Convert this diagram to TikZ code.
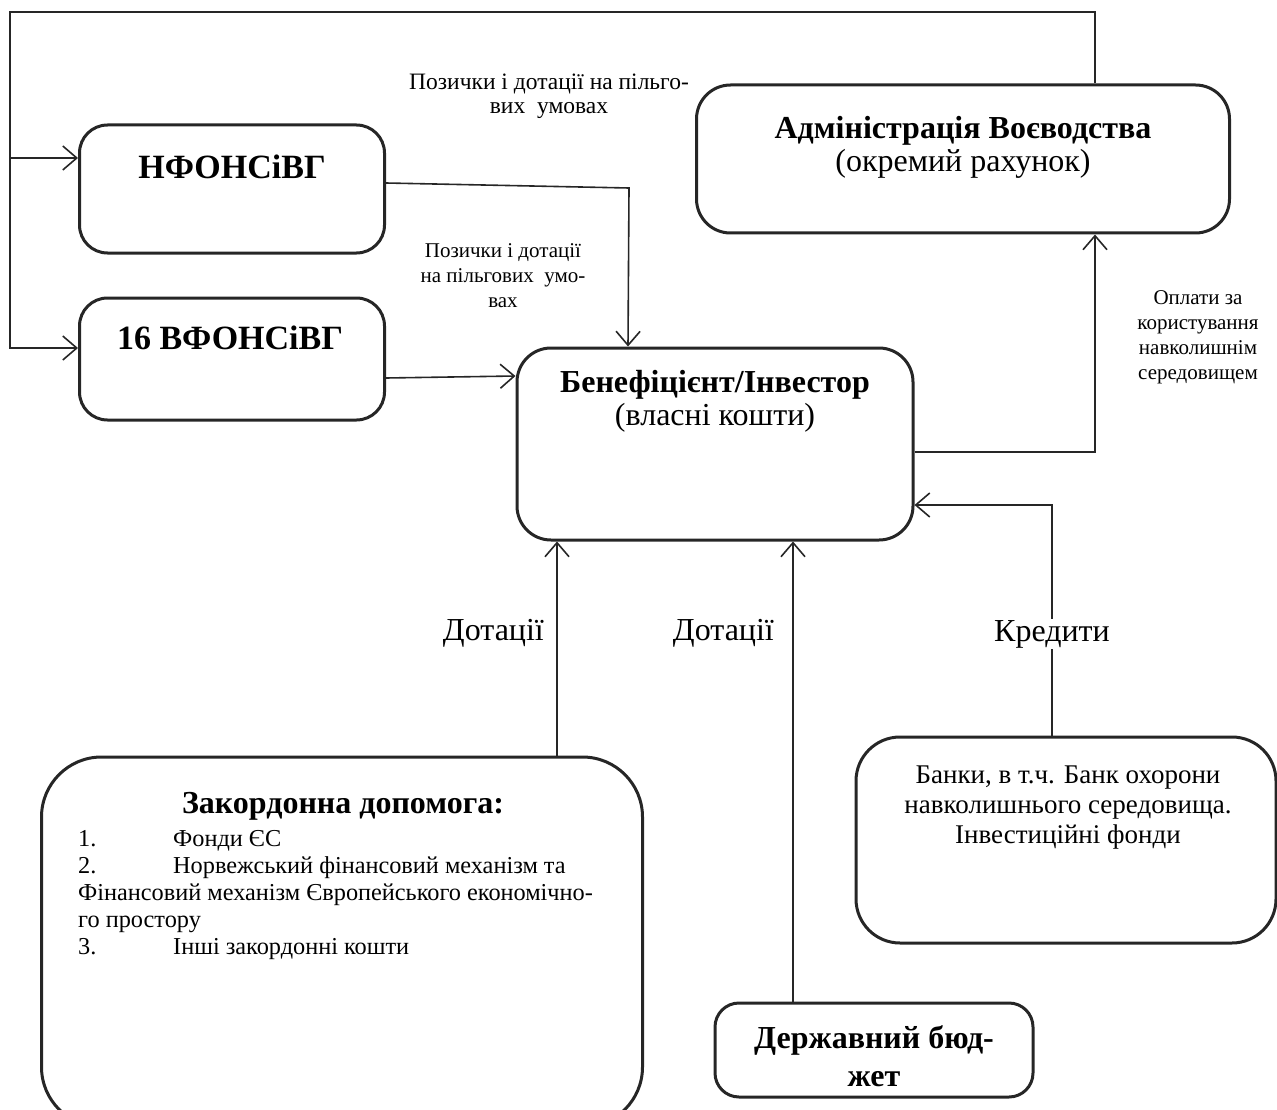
\documentclass[tikz,border=0pt]{standalone}
\usepackage{fontspec}
\setmainfont{Liberation Serif}
\usetikzlibrary{arrows.meta,positioning,calc}
\newcommand{\numitem}[1]{\makebox[95pt][l]{#1}}
\tikzset{
    block/.style={
        rectangle,
        rounded corners=28pt,
        line width=3pt,
        draw=black!85,
        inner sep=0pt,
    },
    flow/.style={
        ->,
        line width=1.6pt,
        draw=black!85,
    },
    title/.style={
        align=center,
        font=\fontsize{34}{38}\selectfont\bfseries,
    },
    big/.style={
        font=\fontsize{32}{33}\selectfont,
    },
    note/.style={
        align=center,
        font=\fontsize{21}{25}\selectfont,
    },
}

\begin{document}
\begin{tikzpicture}[x=1pt,y=-1pt,>={Straight Barb[length=14pt,width=24pt]}]
    \useasboundingbox (0,0) rectangle (1277,1110);
    % boxes
    \node [block, minimum width=305pt, minimum height=128pt] (NF) at (232,189) {};
    \node [block, minimum width=305pt, minimum height=122pt] (VF) at (232,359) {};
    \node [block, minimum width=533pt, minimum height=148pt, rounded corners=34pt] (Adm) at (963,159) {};
    \node [block, minimum width=396pt, minimum height=192pt, rounded corners=34pt] (Ben) at (715,444) {};
    \node [block, minimum width=601pt, minimum height=370pt, rounded corners=60pt] (Zak) at (342,942) {};
    \node [block, minimum width=420pt, minimum height=206pt, rounded corners=44pt] (Bank) at (1066,840) {};
    \node [block, minimum width=318pt, minimum height=94pt, rounded corners=24pt] (Bud) at (874,1050) {};
    % texts
    \node [title] (NFt) at (232,167) {НФОНСіВГ};
    \node [title] (VFt) at (230,338) {16 ВФОНСіВГ};
    \node [big, align=center] (Admt) at (963,147) {\textbf{Адміністрація Воєводства}\\(окремий рахунок)};
    \node [big, align=center] (Bent) at (715,401) {\textbf{Бенефіцієнт/Інвестор}\\(власні кошти)};
    \node [title, font=\fontsize{32}{38}\selectfont\bfseries] (Budt) at (874,1056) {Державний бюд-\\жет};
    \node [align=center, font=\fontsize{27}{30}\selectfont] (Bankt) at (1068,808) {Банки, в т.ч. Банк охорони\\навколишнього середовища.\\Інвестиційні фонди};
    \node [font=\fontsize{32}{34}\selectfont\bfseries] (Zakt) at (343,806) {Закордонна допомога:};
    \node [anchor=north west, align=left, inner sep=0pt, font=\fontsize{24.3}{27}\selectfont] (Zakl) at (78,830)
        {\numitem{1.}Фонди ЄС\\\numitem{2.}Норвежський фінансовий механізм та\\Фінансовий механізм Європейського економічно-\\го простору\\\numitem{3.}Інші закордонні кошти};
    \node [note, font=\fontsize{23.5}{24}\selectfont] (L1) at (549,96) {Позички і дотації на пільго-\\вих\ \ умовах};
    \node [note] (L2) at (503,276) {Позички і дотації\\на пільгових\ \ умо-\\вах};
    \node [note] (L3) at (1198,337) {Оплати за\\користування\\навколишнім\\середовищем};
    % connectors
    \coordinate (TL) at (10,12);
    \coordinate (TB) at (10,158);
    \draw [flow] ($(Adm.north)+(132,0)$) |- (TL) |- ($(VF.west)+(0,-11)$);
    \draw [flow] (TB) -- (TB -| NF.west);
    \draw [flow] ($(NF.east)+(0,-6)$) -- ($(NF.east)+(243,-1)$) -- ($(Ben.north)+(-87,0)$);
    \draw [flow] ($(VF.east)+(0,19)$) -- ($(Ben.west)+(0,-68)$);
    \draw [flow] ($(Ben.east)+(0,8)$) -| ($(Adm.south)+(132,0)$);
    \draw [flow] ($(Bank.north)+(-14,0)$) |- node [pos=0.22, fill=white, big, inner sep=1pt] {Кредити} ($(Ben.east)+(0,61)$);
    \draw [flow] ($(Zak.north)+(215,0)$) -- node [pos=0.57, left=9pt, big] {Дотації} ($(Ben.south)+(-158,0)$);
    \draw [flow] ($(Bud.north)+(-81,0)$) -- node [pos=0.8, left=15pt, big] {Дотації} ($(Ben.south)+(78,0)$);
\end{tikzpicture}
\end{document}
